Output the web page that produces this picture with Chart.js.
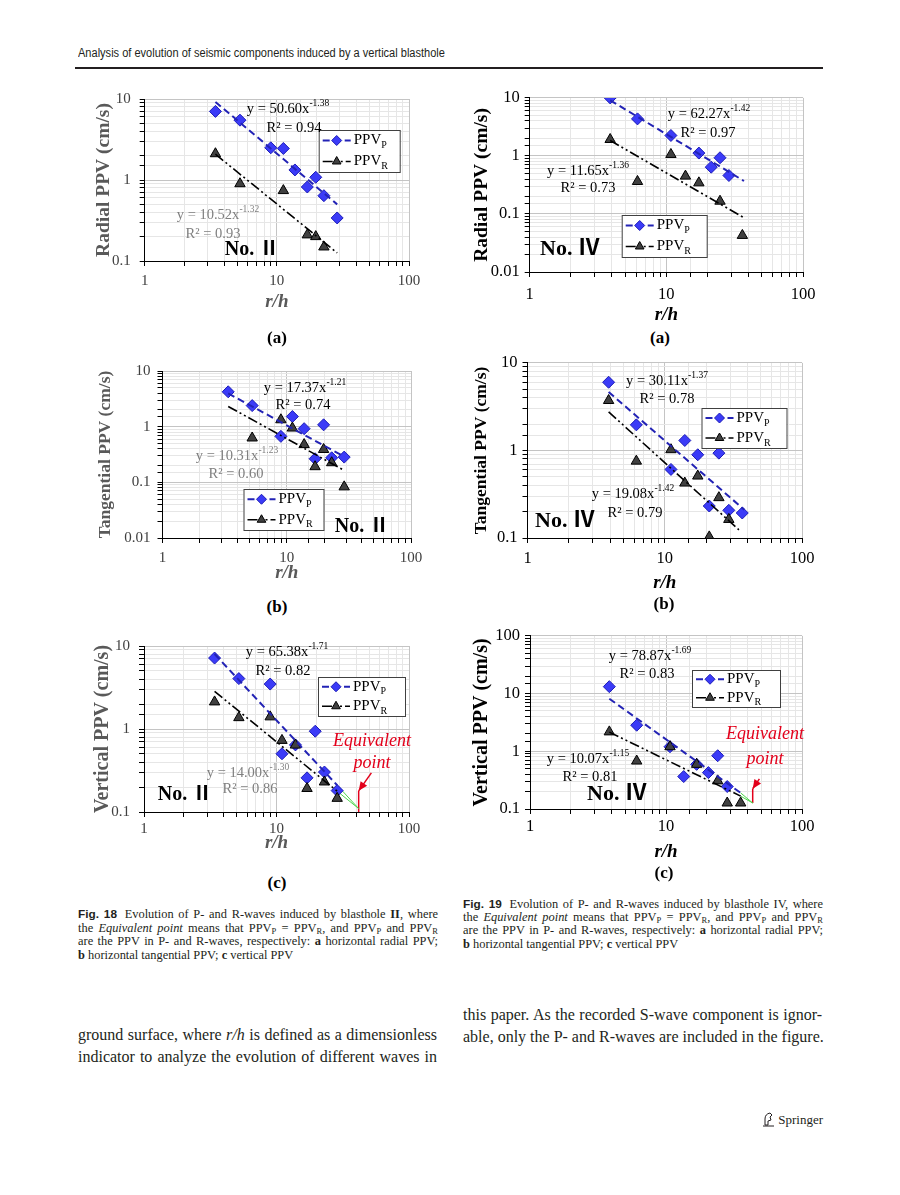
<!DOCTYPE html>
<html>
<head>
<meta charset="utf-8">
<title>Fig. 18 and Fig. 19 - evolution of P- and R-waves</title>
<script src="https://cdn.jsdelivr.net/npm/chart.js@4.4.1/dist/chart.umd.min.js"></script>
<style>
  html, body { margin: 0; padding: 0; background: #fff; }
  #page { position: relative; width: 900px; height: 1195px; overflow: hidden;
          font-family: "Liberation Serif", "Times New Roman", serif; color: #000; }
  canvas { position: absolute; }
  .t { position: absolute; white-space: nowrap; transform: translate(-50%, -50%); line-height: 1; z-index: 2; }
  .eq { font-size: 14.5px; }
  .eq sup { font-size: 9.5px; position: relative; top: -1px; }
  .gray { color: #7f7f7f; }
  .no { font-weight: bold; font-size: 20px; font-family: "Liberation Serif", "Noto Sans CJK SC", serif; }
  .big { font-size: 22px; }
  .lab { font-weight: bold; font-size: 17px; }
  .equiv { font-style: italic; color: #e3001b; font-size: 18px; }
  .header { position: absolute; left: 78px; top: 46px; font-family: "Liberation Sans Narrow", "Liberation Sans", sans-serif;
            font-size: 12px; color: #231f20; white-space: nowrap; transform: scaleX(0.92); transform-origin: left top; }
  .rule { position: absolute; left: 75px; top: 67px; width: 748px; height: 2px; background: #231f20; }
  .cap { position: absolute; width: 360px; font-size: 12.4px; color: #231f20; }
  .cap div, .body div { white-space: nowrap; text-align: justify; text-align-last: justify; }
  .cap div.last, .body div.last { text-align-last: left; }
  .cap .fig { font-family: "Liberation Sans", sans-serif; font-weight: bold; font-size: 11.8px; margin-right: 3px; }
  .cap sub, .body sub { font-size: 8.5px; vertical-align: -2px; line-height: 0; }
  .body { position: absolute; width: 359px; font-size: 16px; line-height: 22px; color: #231f20; }
  .springer { position: absolute; right: 77px; top: 1112px; font-size: 13px; color: #231f20; white-space: nowrap; }
</style>
</head>
<body>
<div id="page">
  <div class="header">Analysis of evolution of seismic components induced by a vertical blasthole</div>
  <div class="rule"></div>

  <canvas id="radII"></canvas>
  <canvas id="radIV"></canvas>
  <canvas id="tanII"></canvas>
  <canvas id="tanIV"></canvas>
  <canvas id="verII"></canvas>
  <canvas id="verIV"></canvas>

  <!-- Fig. 18 (a) -->
  <div class="t eq" style="left:288px; top:108px;">y = 50.60x<sup>-1.38</sup></div>
  <div class="t eq" style="left:294px; top:127px;">R² = 0.94</div>
  <div class="t eq gray" style="left:218px; top:214px;">y = 10.52x<sup>-1.32</sup></div>
  <div class="t eq gray" style="left:213px; top:233px;">R² = 0.93</div>
  <div class="t no" style="left:252px; top:248px;">No. Ⅱ</div>
  <div class="t lab" style="left:277px; top:337px;">(a)</div>

  <!-- Fig. 19 (a) -->
  <div class="t eq" style="left:709px; top:113px;">y = 62.27x<sup>-1.42</sup></div>
  <div class="t eq" style="left:708px; top:132px;">R² = 0.97</div>
  <div class="t eq" style="left:588px; top:170px;">y = 11.65x<sup>-1.36</sup></div>
  <div class="t eq" style="left:588px; top:187px;">R² = 0.73</div>
  <div class="t no big" style="left:570px; top:248px;">No. Ⅳ</div>
  <div class="t lab" style="left:660px; top:337px;">(a)</div>

  <!-- Fig. 18 (b) -->
  <div class="t eq" style="left:305px; top:387px;">y = 17.37x<sup>-1.21</sup></div>
  <div class="t eq" style="left:303px; top:404px;">R² = 0.74</div>
  <div class="t eq gray" style="left:237px; top:455px;">y = 10.31x<sup>-1.23</sup></div>
  <div class="t eq gray" style="left:236px; top:473px;">R² = 0.60</div>
  <div class="t no" style="left:362px; top:525px;">No. Ⅱ</div>
  <div class="t lab" style="left:277px; top:606px;">(b)</div>

  <!-- Fig. 19 (b) -->
  <div class="t eq" style="left:667px; top:380px;">y = 30.11x<sup>-1.37</sup></div>
  <div class="t eq" style="left:667px; top:398px;">R² = 0.78</div>
  <div class="t eq" style="left:633px; top:493px;">y = 19.08x<sup>-1.42</sup></div>
  <div class="t eq" style="left:635px; top:512px;">R² = 0.79</div>
  <div class="t no big" style="left:565px; top:520px;">No. Ⅳ</div>
  <div class="t lab" style="left:664px; top:603px;">(b)</div>

  <!-- Fig. 18 (c) -->
  <div class="t eq" style="left:287px; top:651px;">y = 65.38x<sup>-1.71</sup></div>
  <div class="t eq" style="left:283px; top:670px;">R² = 0.82</div>
  <div class="t eq gray" style="left:248px; top:772px;">y = 14.00x<sup>-1.30</sup></div>
  <div class="t eq gray" style="left:250px; top:788px;">R² = 0.86</div>
  <div class="t no" style="left:185px; top:793px;">No. Ⅱ</div>
  <div class="t equiv" style="left:372px; top:740px;">Equivalent</div>
  <div class="t equiv" style="left:372px; top:762px;">point</div>
  <div class="t lab" style="left:277px; top:882px;">(c)</div>

  <!-- Fig. 19 (c) -->
  <div class="t eq" style="left:650px; top:655px;">y = 78.87x<sup>-1.69</sup></div>
  <div class="t eq" style="left:647px; top:673px;">R² = 0.83</div>
  <div class="t eq" style="left:588px; top:758px;">y = 10.07x<sup>-1.15</sup></div>
  <div class="t eq" style="left:590px; top:776px;">R² = 0.81</div>
  <div class="t no big" style="left:617px; top:793px;">No. Ⅳ</div>
  <div class="t equiv" style="left:765px; top:733px;">Equivalent</div>
  <div class="t equiv" style="left:765px; top:758px;">point</div>
  <div class="t lab" style="left:664px; top:872px;">(c)</div>

  <div class="cap" style="left:78px; top:908px; line-height:13.7px;">
    <div><span class="fig">Fig. 18</span> Evolution of P- and R-waves induced by blasthole <b>II</b>, where</div>
    <div>the <i>Equivalent point</i> means that PPV<sub>P</sub> = PPV<sub>R</sub>, and PPV<sub>P</sub> and PPV<sub>R</sub></div>
    <div>are the PPV in P- and R-waves, respectively: <b>a</b> horizontal radial PPV;</div>
    <div class="last"><b>b</b> horizontal tangential PPV; <b>c</b> vertical PPV</div>
  </div>
  <div class="cap" style="left:463px; top:898px; line-height:13.2px;">
    <div><span class="fig">Fig. 19</span> Evolution of P- and R-waves induced by blasthole IV, where</div>
    <div>the <i>Equivalent point</i> means that PPV<sub>P</sub> = PPV<sub>R</sub>, and PPV<sub>P</sub> and PPV<sub>R</sub></div>
    <div>are the PPV in P- and R-waves, respectively: <b>a</b> horizontal radial PPV;</div>
    <div class="last"><b>b</b> horizontal tangential PPV; <b>c</b> vertical PPV</div>
  </div>

  <div class="body" style="left:78px; top:1024px;">
    <div>ground surface, where <i>r/h</i> is defined as a dimensionless</div>
    <div>indicator to analyze the evolution of different waves in</div>
  </div>
  <div class="body" style="left:463px; top:1004px;">
    <div>this paper. As the recorded S-wave component is ignor-</div>
    <div>able, only the P- and R-waves are included in the figure.</div>
  </div>

  <div class="springer">
    <svg width="13" height="15" viewBox="0 0 13 15" style="vertical-align:-3px">
      <path d="M3 13 L3 7 Q3 2 8 1 L10 3 L8 5 L9 8 L6 9 L6 13 Z" fill="none" stroke="#231f20" stroke-width="1"/>
      <line x1="1" y1="14" x2="12" y2="14" stroke="#231f20" stroke-width="1"/>
    </svg> Springer
  </div>
</div>

<script>
// ---------- Fig. 18: blasthole II ----------
// (a) radial
const radII_rhP  = [3.43, 5.26, 9.0, 11.2, 13.7, 17.0, 19.7, 22.7, 28.6];
const radII_ppvP = [7.03, 5.48, 2.50, 2.45, 1.33, 0.82, 1.08, 0.64, 0.34];
const radII_rhR  = [3.43, 5.26, 11.2, 17.0, 19.7, 22.7];
const radII_ppvR = [2.11, 0.90, 0.74, 0.21, 0.20, 0.149];
const radII_fitPx = [3.43, 28.6], radII_fitPy = [9.2, 0.50];
const radII_fitRx = [3.43, 28.6], radII_fitRy = [2.08, 0.126];
// (b) tangential
const tanII_rhP  = [3.38, 5.27, 8.97, 11.1, 13.8, 16.9, 19.8, 23.0, 29.0];
const tanII_ppvP = [4.23, 2.39, 0.67, 1.52, 0.92, 0.265, 1.08, 0.276, 0.284];
const tanII_rhR  = [5.27, 8.97, 11.1, 13.8, 16.9, 19.8, 23.0, 29.0];
const tanII_ppvR = [0.626, 1.33, 0.944, 0.477, 0.191, 0.389, 0.225, 0.083];
const tanII_fitPx = [3.38, 29.0], tanII_fitPy = [3.95, 0.29];
const tanII_fitRx = [3.38, 29.0], tanII_fitRy = [2.31, 0.164];
// (c) vertical
const verII_rhP  = [3.41, 5.2, 8.96, 11.0, 13.9, 17.0, 19.6, 23.0, 28.7];
const verII_ppvP = [7.16, 4.05, 3.48, 0.503, 0.643, 0.258, 0.94, 0.303, 0.181];
const verII_rhR  = [3.41, 5.2, 8.96, 11.0, 13.9, 17.0, 23.0, 28.7];
const verII_ppvR = [2.12, 1.37, 1.40, 0.729, 0.64, 0.192, 0.23, 0.146];
const verII_fitPx = [3.41, 28.7], verII_fitPy = [8.0, 0.21];
const verII_fitRx = [3.41, 28.7], verII_fitRy = [2.84, 0.178];
const verII_equiv = [41.7, 0.11];                      // equivalent point (r/h, PPV)
const verII_markX = [41.7, 41.7], verII_markY = [0.1, 0.18];
const verII_arrowX = [52.0, 41.7], verII_arrowY = [0.296, 0.18];

// ---------- Fig. 19: blasthole IV ----------
const radIV_rhP  = [3.88, 6.15, 10.8, 17.3, 21.3, 24.7, 28.7];
const radIV_ppvP = [10.0, 4.35, 2.25, 1.12, 0.64, 0.93, 0.46];
const radIV_rhR  = [3.88, 6.15, 10.8, 13.8, 17.3, 24.7, 36.0];
const radIV_ppvR = [1.92, 0.363, 1.06, 0.449, 0.344, 0.166, 0.0427];
const radIV_fitPx = [3.88, 37.0], radIV_fitPy = [9.1, 0.37];
const radIV_fitRx = [3.88, 37.0], radIV_fitRy = [1.84, 0.086];

const tanIV_rhP  = [3.90, 6.21, 11.1, 14.0, 17.4, 21.1, 24.8, 29.3, 36.7];
const tanIV_ppvP = [6.01, 1.96, 0.607, 1.30, 0.893, 0.232, 0.932, 0.207, 0.193];
const tanIV_rhR  = [3.90, 6.21, 11.1, 14.0, 17.4, 21.1, 24.8, 29.3];
const tanIV_ppvR = [3.72, 0.755, 1.02, 0.424, 0.51, 0.103, 0.289, 0.163];
const tanIV_fitPx = [3.9, 38.0], tanIV_fitPy = [4.66, 0.21];
const tanIV_fitRx = [3.9, 34.7], tanIV_fitRy = [2.76, 0.124];

const verIV_rhP  = [3.83, 6.09, 10.7, 13.5, 16.8, 20.5, 24.0, 28.2];
const verIV_ppvP = [13.2, 2.83, 1.20, 0.365, 0.594, 0.427, 0.838, 0.245];
const verIV_rhR  = [3.83, 6.09, 10.7, 16.8, 24.0, 28.2, 35.4];
const verIV_ppvR = [2.17, 0.678, 1.20, 0.594, 0.307, 0.127, 0.127];
const verIV_fitPx = [3.83, 35.4], verIV_fitPy = [8.15, 0.19];
const verIV_fitRx = [3.83, 35.4], verIV_fitRy = [2.15, 0.167];
const verIV_equiv = [43.4, 0.127];
const verIV_markX = [43.4, 43.4], verIV_markY = [0.127, 0.224];
const verIV_arrowX = [48.6, 43.4], verIV_arrowY = [0.332, 0.224];

const xTicks = ['1', '10', '100'];
const legendLabels = ['PPV', 'PPV'];
const legendSubs = ['P', 'R'];

// ---------- styles ----------
const SERIF = '"Liberation Serif", "Times New Roman", serif';
const GRID_MAJOR = '#c4c4c4', GRID_MINOR = '#e6e6e6';
const P_FILL = '#3b3bf7', P_EDGE = '#1c1cb8', P_LINE = '#2323b5';
const R_FILL = '#404040', R_EDGE = '#000000';

const pts = (xs, ys) => xs.map((x, i) => ({ x: x, y: ys[i] }));
const isDecade = v => Math.abs(Math.log10(v) - Math.round(Math.log10(v))) < 1e-6;
const decadeLabel = v => isDecade(v) ? String(+Number(v).toPrecision(1)) : '';

function legendPlugin(box, offX, offY) {
    return {
        id: 'boxLegend',
        afterDraw(chart) {
            const ctx = chart.ctx;
            const x1 = box[0] - offX, y1 = box[1] - offY, x2 = box[2] - offX, y2 = box[3] - offY;
            const ds = chart.data.datasets;
            const rows = [[ds[0], ds[3]], [ds[1], ds[2]]];   // [fit line, markers]
            ctx.save();
            ctx.fillStyle = '#fff';
            ctx.fillRect(x1, y1, x2 - x1, y2 - y1);
            ctx.strokeStyle = '#404040';
            ctx.lineWidth = 1;
            ctx.strokeRect(x1 + 0.5, y1 + 0.5, x2 - x1, y2 - y1);
            const h = (y2 - y1) / 2;
            rows.forEach((r, i) => {
                const y = y1 + h * (i + 0.5);
                const line = r[0], mk = r[1];
                ctx.strokeStyle = line.borderColor;
                ctx.lineWidth = line.borderWidth;
                ctx.setLineDash(line.borderDash || []);
                ctx.beginPath();
                ctx.moveTo(x1 + 4, y);
                ctx.lineTo(x1 + 32, y);
                ctx.stroke();
                ctx.setLineDash([]);
                ctx.fillStyle = mk.backgroundColor;
                ctx.strokeStyle = mk.borderColor;
                ctx.lineWidth = 1;
                Chart.helpers.drawPoint(ctx, { pointStyle: mk.pointStyle, radius: 5, rotation: 0, borderWidth: 1 }, x1 + 18, y);
                ctx.fillStyle = '#000';
                ctx.textBaseline = 'middle';
                ctx.textAlign = 'left';
                ctx.font = '15px ' + SERIF;
                ctx.fillText(legendLabels[i], x1 + 35, y);
                const w = ctx.measureText(legendLabels[i]).width;
                ctx.font = '10px ' + SERIF;
                ctx.fillText(legendSubs[i], x1 + 35 + w, y + 5);
            });
            ctx.restore();
        }
    };
}

const arrowPlugin = {
    id: 'arrowHead',
    afterDatasetsDraw(chart) {
        const ctx = chart.ctx;
        chart.data.datasets.forEach((d, i) => {
            if (!d.arrow) return;
            const el = chart.getDatasetMeta(i).data;
            const a = el[el.length - 2], b = el[el.length - 1];
            const ang = Math.atan2(b.y - a.y, b.x - a.x);
            ctx.save();
            ctx.translate(b.x, b.y);
            ctx.rotate(ang);
            ctx.beginPath();
            ctx.moveTo(0, 0);
            ctx.lineTo(-9, -4);
            ctx.lineTo(-9, 4);
            ctx.closePath();
            ctx.fillStyle = d.borderColor;
            ctx.fill();
            ctx.restore();
        });
    }
};

function makeChart(id, L, d) {
    const tl = L.titleSize * 1.2, xl = 19 * 1.2;
    const left = L.yTitleX - tl / 2, top = L.plot[1] - 14;
    const width = Math.round(L.plot[2] + 26 - left);
    const height = Math.round(L.xTitleY + xl / 2 - top);
    const cv = document.getElementById(id);
    cv.style.left = left + 'px';
    cv.style.top = top + 'px';
    cv.width = width; cv.height = height;
    cv.style.width = width + 'px'; cv.style.height = height + 'px';

    const datasets = [
        { data: pts(d.fitPx, d.fitPy), showLine: true, borderColor: P_LINE, borderWidth: 2, borderDash: [7, 4], pointRadius: 0 },
        { data: pts(d.fitRx, d.fitRy), showLine: true, borderColor: '#000', borderWidth: 1.6, borderDash: [10, 3, 2, 3, 2, 3], pointRadius: 0 },
        { data: pts(d.rhR, d.ppvR), pointStyle: 'triangle', pointRadius: 6, backgroundColor: R_FILL, borderColor: R_EDGE, borderWidth: 1 },
        { data: pts(d.rhP, d.ppvP), pointStyle: 'rectRot', pointRadius: 6, backgroundColor: P_FILL, borderColor: P_EDGE, borderWidth: 1 }
    ];
    if (d.equiv) {
        const e = { x: d.equiv[0], y: d.equiv[1] };
        datasets.push(
            { data: [{ x: d.fitPx[1], y: d.fitPy[1] }, e], showLine: true, borderColor: '#4cd44c', borderWidth: 1, pointRadius: 0 },
            { data: [{ x: d.fitRx[1], y: d.fitRy[1] }, e], showLine: true, borderColor: '#4cd44c', borderWidth: 1, pointRadius: 0 },
            { data: pts(d.markX, d.markY), showLine: true, borderColor: '#e3001b', borderWidth: 1.5, pointRadius: 0 },
            { data: pts(d.arrowX, d.arrowY), showLine: true, borderColor: '#e3001b', borderWidth: 1.5, pointRadius: 0, arrow: true }
        );
    }

    const tickFont = { family: SERIF, size: L.tickSize };
    return new Chart(cv, {
        type: 'scatter',
        data: { datasets: datasets },
        options: {
            responsive: false,
            animation: false,
            events: [],
            layout: { padding: { top: 14, right: 26, left: 0, bottom: 0 } },
            plugins: { legend: { display: false }, tooltip: { enabled: false } },
            scales: {
                x: {
                    type: 'logarithmic', min: 1, max: 100,
                    border: { color: L.axisCol, width: 1 },
                    grid: { color: c => (c.tick && isDecade(c.tick.value)) ? GRID_MAJOR : GRID_MINOR, tickColor: L.axisCol, tickLength: 5 },
                    ticks: { autoSkip: false, maxRotation: 0, padding: L.xPad, color: L.tickCol, font: tickFont,
                             callback: v => isDecade(v) ? xTicks[Math.round(Math.log10(v))] : '' },
                    title: { display: true, text: 'r/h', color: L.titleCol, padding: 0,
                             font: { family: SERIF, size: 19, weight: 'bold', style: 'italic', lineHeight: 1.2 } },
                    afterFit: s => { s.height = height - (L.plot[3] - top); }
                },
                y: {
                    type: 'logarithmic', min: L.yMin, max: L.yMax,
                    border: { color: L.axisCol, width: 1 },
                    grid: { color: c => (c.tick && isDecade(c.tick.value)) ? GRID_MAJOR : GRID_MINOR, tickColor: L.axisCol, tickLength: 5 },
                    ticks: { autoSkip: false, padding: L.yPad, color: L.tickCol, font: tickFont, callback: v => decadeLabel(v) },
                    title: { display: true, text: L.yTitle, color: L.titleCol, padding: 0,
                             font: { family: SERIF, size: L.titleSize, weight: 'bold', lineHeight: 1.2 } },
                    afterFit: s => { s.width = L.plot[0] - left; }
                }
            }
        },
        plugins: [legendPlugin(L.legend, left, top), arrowPlugin]
    });
}

const grayStyle  = { tickCol: '#404040', titleCol: '#595959', axisCol: '#000' };
const blackStyle = { tickCol: '#000', titleCol: '#000', axisCol: '#000' };

makeChart('radII', Object.assign({ plot: [145, 95, 409, 261], yMin: 0.1, yMax: 10, yTitle: 'Radial PPV (cm/s)',
    yTitleX: 104, xTitleY: 302, titleSize: 19.5, tickSize: 15, xPad: 6, yPad: 9, legend: [319, 130, 400, 172] }, grayStyle),
    { rhP: radII_rhP, ppvP: radII_ppvP, rhR: radII_rhR, ppvR: radII_ppvR,
      fitPx: radII_fitPx, fitPy: radII_fitPy, fitRx: radII_fitRx, fitRy: radII_fitRy });

makeChart('radIV', Object.assign({ plot: [530, 97, 803, 272], yMin: 0.01, yMax: 10, yTitle: 'Radial PPV (cm/s)',
    yTitleX: 482, xTitleY: 315, titleSize: 19.5, tickSize: 16.5, xPad: 8, yPad: 5, legend: [622, 215, 707, 257] }, blackStyle),
    { rhP: radIV_rhP, ppvP: radIV_ppvP, rhR: radIV_rhR, ppvR: radIV_ppvR,
      fitPx: radIV_fitPx, fitPy: radIV_fitPy, fitRx: radIV_fitRx, fitRy: radIV_fitRy });

makeChart('tanII', Object.assign({ plot: [162, 369, 410, 538], yMin: 0.01, yMax: 10, yTitle: 'Tangential PPV (cm/s)',
    yTitleX: 105, xTitleY: 573, titleSize: 17.5, tickSize: 15, xPad: 6, yPad: 7, legend: [243, 489, 323, 530] }, grayStyle),
    { rhP: tanII_rhP, ppvP: tanII_ppvP, rhR: tanII_rhR, ppvR: tanII_ppvR,
      fitPx: tanII_fitPx, fitPy: tanII_fitPy, fitRx: tanII_fitRx, fitRy: tanII_fitRy });

makeChart('tanIV', Object.assign({ plot: [527, 362, 801, 538], yMin: 0.1, yMax: 10, yTitle: 'Tangential PPV (cm/s)',
    yTitleX: 481, xTitleY: 583, titleSize: 17.5, tickSize: 16.5, xPad: 6, yPad: 5, legend: [701, 408, 786, 448] }, blackStyle),
    { rhP: tanIV_rhP, ppvP: tanIV_ppvP, rhR: tanIV_rhR, ppvR: tanIV_ppvR,
      fitPx: tanIV_fitPx, fitPy: tanIV_fitPy, fitRx: tanIV_fitRx, fitRy: tanIV_fitRy });

makeChart('verII', Object.assign({ plot: [144, 642, 409, 812], yMin: 0.1, yMax: 10, yTitle: 'Vertical PPV (cm/s)',
    yTitleX: 103, xTitleY: 843, titleSize: 20, tickSize: 15, xPad: 3, yPad: 9, legend: [318, 677, 405, 716] }, grayStyle),
    { rhP: verII_rhP, ppvP: verII_ppvP, rhR: verII_rhR, ppvR: verII_ppvR,
      fitPx: verII_fitPx, fitPy: verII_fitPy, fitRx: verII_fitRx, fitRy: verII_fitRy,
      equiv: verII_equiv, markX: verII_markX, markY: verII_markY, arrowX: verII_arrowX, arrowY: verII_arrowY });

makeChart('verIV', Object.assign({ plot: [530, 635, 802, 809], yMin: 0.1, yMax: 100, yTitle: 'Vertical PPV (cm/s)',
    yTitleX: 482, xTitleY: 852, titleSize: 20, tickSize: 16.5, xPad: 3, yPad: 5, legend: [692, 670, 780, 707] }, blackStyle),
    { rhP: verIV_rhP, ppvP: verIV_ppvP, rhR: verIV_rhR, ppvR: verIV_ppvR,
      fitPx: verIV_fitPx, fitPy: verIV_fitPy, fitRx: verIV_fitRx, fitRy: verIV_fitRy,
      equiv: verIV_equiv, markX: verIV_markX, markY: verIV_markY, arrowX: verIV_arrowX, arrowY: verIV_arrowY });
</script>
</body>
</html>
